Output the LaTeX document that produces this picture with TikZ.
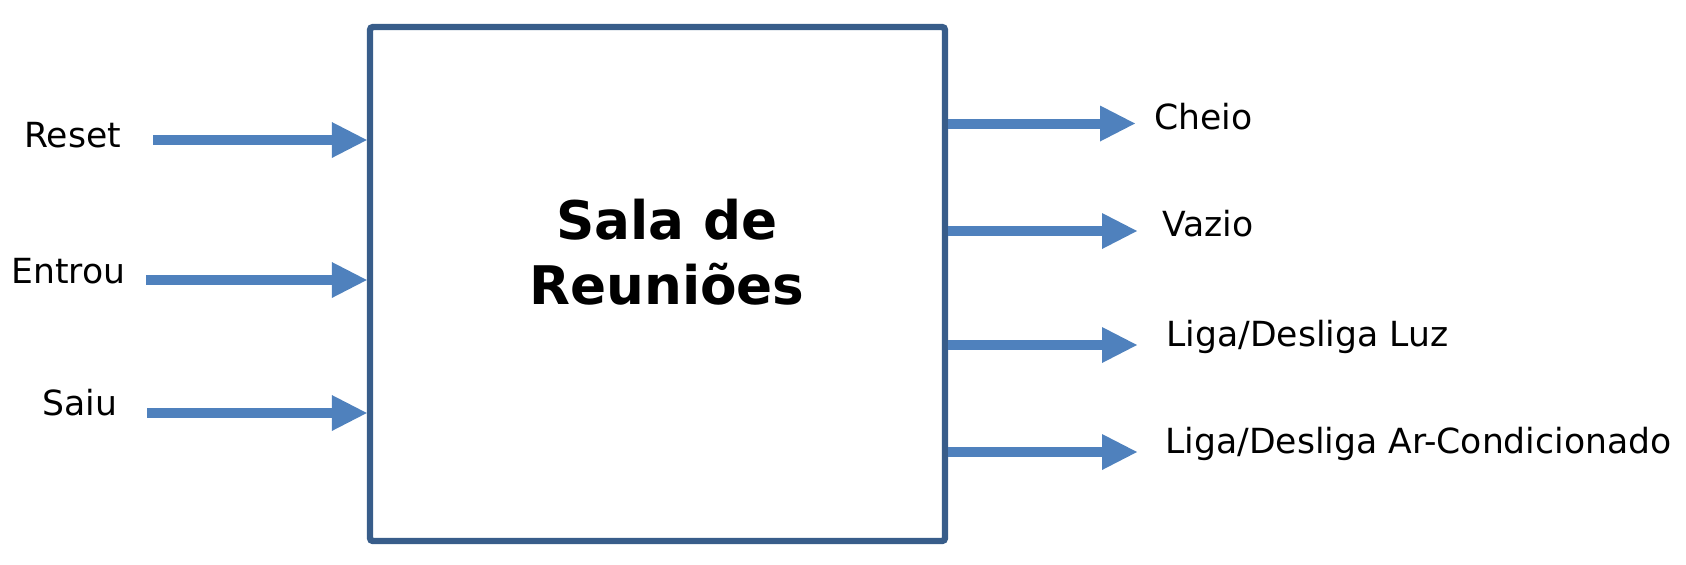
\documentclass[tikz,border=0pt]{standalone}
\usepackage{fontspec}
\setmainfont{DejaVu Sans}
\usetikzlibrary{arrows.meta}
\definecolor{boxline}{HTML}{385D8A}
\definecolor{sigblue}{HTML}{4F81BD}
\tikzstyle{block}=[draw=boxline,rectangle,line width=3.2pt,rounded corners=1.5pt,
  minimum width=287.5pt,minimum height=257pt]
\tikzstyle{signal}=[draw=sigblue,line width=5pt,
  -{Triangle[length=17.5pt,width=18pt,line width=0pt]}]
\tikzstyle{every node}=[font=\fontsize{17.3}{20}\selectfont]

\begin{document}
\begin{tikzpicture}[x=0.5pt,y=-0.5pt,inner sep=0pt]
  \useasboundingbox (0,0) rectangle (1686,564);
  \node[block] (sala) at (657.5,284) {};
  \node[align=center,font=\fontsize{26.6}{32.5}\selectfont\bfseries] (titulo) at (667,252) {Sala de\\Reuniões};
  % entradas
  \coordinate (reset) at (153,140);
  \coordinate (entrou) at (146,280);
  \coordinate (saiu) at (147,413);
  \node[anchor=base west] (lreset) at (24,147) {Reset};
  \node[anchor=base west] (lentrou) at (11,283) {Entrou};
  \node[anchor=base west] (lsaiu) at (42,415) {Saiu};
  \draw[signal] (reset) -- (reset -| sala.west);
  \draw[signal] (entrou) -- (entrou -| sala.west);
  \draw[signal] (saiu) -- (saiu -| sala.west);
  % saidas
  \coordinate (cheio) at (1135,123.5);
  \coordinate (vazio) at (1137,231);
  \coordinate (luz) at (1137,345);
  \coordinate (ar) at (1137,452);
  \node[anchor=base west] (lcheio) at (1154,129) {Cheio};
  \node[anchor=base west] (lvazio) at (1162,236) {Vazio};
  \node[anchor=base west] (lluz) at (1166,346) {Liga/Desliga Luz};
  \node[anchor=base west] (lar) at (1165,453) {Liga/Desliga Ar-Condicionado};
  \draw[signal] (cheio -| sala.east) -- (cheio);
  \draw[signal] (vazio -| sala.east) -- (vazio);
  \draw[signal] (luz -| sala.east) -- (luz);
  \draw[signal] (ar -| sala.east) -- (ar);
\end{tikzpicture}
\end{document}
